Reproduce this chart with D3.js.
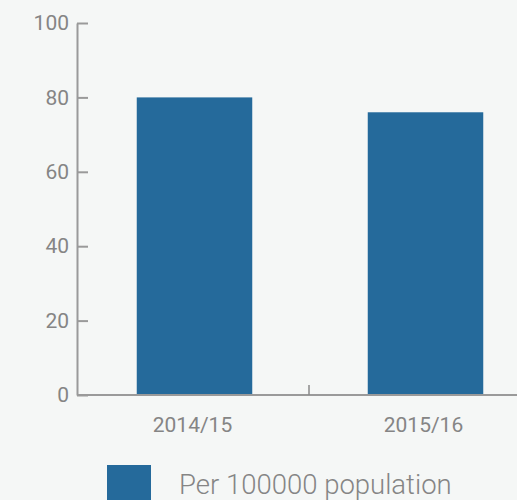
<!DOCTYPE html>
<html>
<head>
<meta charset="utf-8">
<script src="https://cdn.jsdelivr.net/npm/d3@7"></script>
<style>
  html, body { margin: 0; padding: 0; background: #f5f7f6; }
  svg { display: block; font-family: Roboto, sans-serif; }
</style>
</head>
<body>
<div class="chart"></div>
<script>
const categories = ['2014/15', '2015/16']
const values = [80, 76]
const yTicks = [0, 20, 40, 60, 80, 100]
const seriesName = 'Per 100000 population'

const fullWidth = 517, fullHeight = 500
const margin = { top: 23, right: 0, bottom: 105, left: 77 }
const barColour = '#256a9b'
const textColour = '#858585'
const axisColour = '#9a9a9a'

const svg = d3.select('.chart')
    .append('svg')
    .attr('width', fullWidth)
    .attr('height', fullHeight)

const height = fullHeight - margin.top - margin.bottom

const xScale = d3.scaleBand()
    .domain(categories)
    .range([margin.left + 2, margin.left + 464])

const yScale = d3.scaleLinear()
    .domain([0, 100])
    .range([margin.top + height, margin.top])

// bars
const barWidth = xScale.bandwidth() / 2
svg.selectAll('.bar')
    .data(values)
    .enter().append('rect')
    .attr('class', 'bar')
    .attr('x', (d, i) => xScale(categories[i]) + (xScale.bandwidth() - barWidth) / 2)
    .attr('y', d => yScale(d))
    .attr('width', barWidth)
    .attr('height', d => yScale(0) - yScale(d))
    .style('fill', barColour)

// x axis: line across, one tick between the bands, labels under bar centres
svg.append('line')
    .attr('x1', margin.left)
    .attr('x2', fullWidth)
    .attr('y1', yScale(0))
    .attr('y2', yScale(0))
    .style('stroke', axisColour)
    .style('stroke-width', 2)

svg.selectAll('.xsep')
    .data(categories.slice(1))
    .enter().append('line')
    .attr('class', 'xsep')
    .attr('x1', d => xScale(d) - 1)
    .attr('x2', d => xScale(d) - 1)
    .attr('y1', yScale(0))
    .attr('y2', yScale(0) - 10)
    .style('stroke', '#8a8a8a')
    .style('stroke-width', 1.5)

svg.selectAll('.xlabel')
    .data(categories)
    .enter().append('text')
    .attr('class', 'xlabel')
    .attr('x', d => xScale(d) + xScale.bandwidth() / 2 - 2)
    .attr('y', yScale(0) + 37)
    .attr('text-anchor', 'middle')
    .style('font-size', '21px')
    .style('fill', textColour)
    .text(d => d)

// y axis, ticks pointing inwards
const yAxis = d3.axisLeft(yScale)
    .tickValues(yTicks)
    .tickSizeInner(-11)
    .tickSizeOuter(0)
    .tickPadding(8)

const gY = svg.append('g')
    .attr('transform', `translate(${margin.left}, 0)`)
    .call(yAxis)

gY.select('.domain').style('stroke', axisColour).style('stroke-width', 2)
gY.selectAll('.tick line').style('stroke', axisColour).style('stroke-width', 2)
gY.selectAll('.tick text')
    .style('font-size', '21px')
    .style('font-family', 'Roboto, sans-serif')
    .style('fill', textColour)

// legend
const legend = svg.append('g')
    .attr('transform', `translate(107, 465)`)

legend.append('rect')
    .attr('width', 44)
    .attr('height', 40)
    .style('fill', barColour)

legend.append('text')
    .attr('x', 72)
    .attr('y', 29)
    .style('font-size', '27.5px')
    .style('font-weight', 300)
    .style('fill', textColour)
    .text(seriesName)
</script>
</body>
</html>
